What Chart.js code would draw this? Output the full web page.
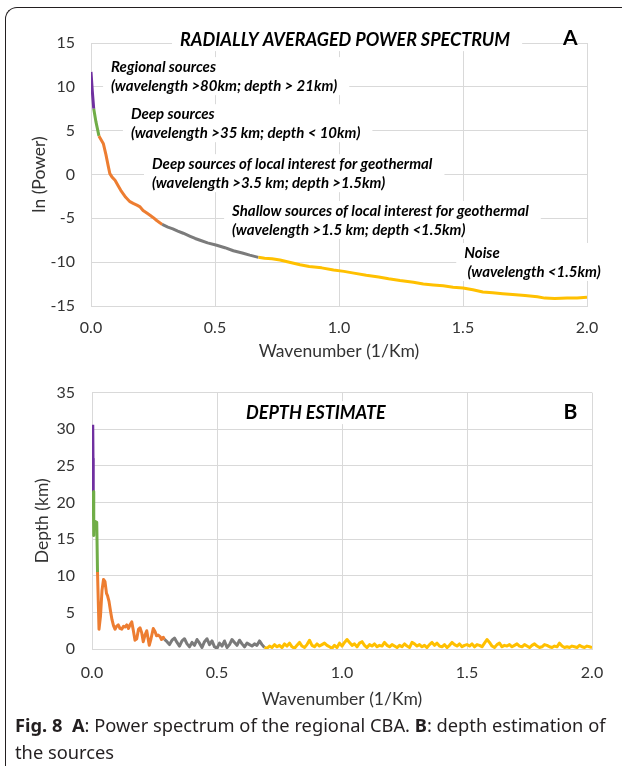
<!DOCTYPE html>
<html>
<head>
<meta charset="utf-8">
<script src="https://cdn.jsdelivr.net/npm/chart.js@4.4.1/dist/chart.umd.min.js"></script>
<style>
  html, body { margin: 0; padding: 0; background: #fff; }
  body { width: 622px; height: 774px; position: relative; overflow: hidden; }
  #frame {
    position: absolute; left: 5px; top: 7px; width: 640px; height: 758px;
    border-top: 1.5px solid #231f20; border-left: 1.5px solid #231f20;
    border-top-left-radius: 12px;
  }
  canvas { position: absolute; left: 0; }
  #chartA { top: 0; }
  #chartB { top: 366px; }
  #caption {
    position: absolute; left: 15px; top: 711px;
    font-family: "Noto Sans", sans-serif; font-size: 18.3px; line-height: 27px;
    color: #231f20; white-space: nowrap;
  }
</style>
</head>
<body>
<div id="frame"></div>
<canvas id="chartA" width="622" height="366"></canvas>
<canvas id="chartB" width="622" height="348"></canvas>
<div id="caption"><b>Fig. 8</b>&nbsp;&nbsp;<b>A</b>: Power spectrum of the regional CBA. <b>B</b>: depth estimation of<br>the sources</div>
<script>
// wavenumber (1/km) and ln(power) for the radially averaged spectrum
const spectrumK = [
  0.000, 0.005, 0.011, 0.020, 0.032, 0.040, 0.050, 0.060, 0.070, 0.076,
  0.085, 0.097, 0.110, 0.120, 0.130, 0.140, 0.157, 0.170, 0.185, 0.198,
  0.210, 0.225, 0.238, 0.250, 0.265, 0.280, 0.287, 0.310, 0.330, 0.350,
  0.372, 0.400, 0.420, 0.440, 0.470, 0.507, 0.540, 0.574, 0.610, 0.640,
  0.675, 0.700, 0.730, 0.762, 0.800, 0.843, 0.880, 0.930, 0.978, 1.020,
  1.060, 1.110, 1.160, 1.200, 1.246, 1.300, 1.340, 1.380, 1.420, 1.460,
  1.500, 1.540, 1.580, 1.620, 1.660, 1.700, 1.750, 1.800, 1.830, 1.870,
  1.920, 1.960, 2.000
];
const spectrumLnP = [
  11.7, 9.6, 7.5, 6.0, 4.4, 4.0, 3.5, 2.3, 0.9, 0.1,
  -0.3, -0.65, -1.3, -1.8, -2.2, -2.6, -3.1, -3.3, -3.5, -3.7,
  -4.1, -4.4, -4.65, -4.9, -5.25, -5.55, -5.7, -6.0, -6.2, -6.45,
  -6.7, -7.05, -7.3, -7.5, -7.8, -8.07, -8.35, -8.7, -8.95, -9.2,
  -9.45, -9.55, -9.6, -9.75, -10.0, -10.3, -10.5, -10.65, -10.9, -11.05,
  -11.25, -11.5, -11.7, -11.9, -12.1, -12.3, -12.5, -12.6, -12.7, -12.85,
  -12.95, -13.15, -13.4, -13.5, -13.6, -13.7, -13.8, -13.95, -14.1, -14.15,
  -14.1, -14.1, -14.0
];

// wavenumber (1/km) and estimated depth (km)
const depthK = [
  0.003, 0.004, 0.005, 0.007, 0.008, 0.019, 0.022, 0.028, 0.034, 0.040,
  0.046, 0.052, 0.058, 0.062, 0.068, 0.074, 0.080, 0.086, 0.092, 0.098,
  0.105, 0.112, 0.119, 0.126, 0.132, 0.139, 0.146, 0.152, 0.159, 0.165,
  0.172, 0.179, 0.186, 0.192, 0.199, 0.205, 0.212, 0.219, 0.225, 0.229,
  0.236, 0.245, 0.252, 0.258, 0.265, 0.272, 0.278, 0.285, 0.290,
  0.30, 0.31, 0.32, 0.33, 0.34, 0.35, 0.36, 0.37, 0.38, 0.39,
  0.40, 0.41, 0.42, 0.43, 0.44, 0.45, 0.46, 0.47, 0.48, 0.49,
  0.50, 0.51, 0.52, 0.53, 0.54, 0.55, 0.56, 0.57, 0.58, 0.59,
  0.60, 0.61, 0.62, 0.63, 0.64, 0.65, 0.66, 0.67, 0.68, 0.69,
  0.70, 0.71, 0.72, 0.73, 0.74, 0.75, 0.76, 0.77, 0.78, 0.79,
  0.80, 0.81, 0.82, 0.83, 0.84, 0.85, 0.86, 0.87, 0.88, 0.89,
  0.90, 0.91, 0.92, 0.93, 0.94, 0.95, 0.96, 0.97, 0.98, 0.99,
  1.00, 1.01, 1.02, 1.03, 1.04, 1.05, 1.06, 1.07, 1.08, 1.09,
  1.10, 1.11, 1.12, 1.13, 1.14, 1.15, 1.16, 1.17, 1.18, 1.19,
  1.20, 1.21, 1.22, 1.23, 1.24, 1.25, 1.26, 1.27, 1.28, 1.29,
  1.30, 1.31, 1.32, 1.33, 1.34, 1.35, 1.36, 1.37, 1.38, 1.39,
  1.40, 1.41, 1.42, 1.43, 1.44, 1.45, 1.46, 1.47, 1.48, 1.49,
  1.50, 1.51, 1.52, 1.53, 1.54, 1.55, 1.56, 1.57, 1.58, 1.59,
  1.60, 1.61, 1.62, 1.63, 1.64, 1.65, 1.66, 1.67, 1.68, 1.69,
  1.70, 1.71, 1.72, 1.73, 1.74, 1.75, 1.76, 1.77, 1.78, 1.79,
  1.80, 1.81, 1.82, 1.83, 1.84, 1.85, 1.86, 1.87, 1.88, 1.89,
  1.90, 1.91, 1.92, 1.93, 1.94, 1.95, 1.96, 1.97, 1.98, 1.99,
  2.00
];
const depthKm = [
  30.6, 26.0, 21.5, 15.5, 17.5, 17.3, 10.5, 2.7, 4.5, 8.0,
  9.5, 9.2, 7.6, 7.3, 6.5, 5.2, 4.0, 3.2, 2.7, 3.1,
  3.3, 2.8, 2.7, 3.1, 3.0, 3.3, 2.8, 3.3, 3.7, 2.6,
  1.2, 1.4, 2.7, 2.9, 2.2, 1.0, 1.9, 2.5, 1.3, 0.5,
  1.4, 2.8, 2.4, 1.8, 1.9, 1.7, 1.3, 1.6, 1.3,
  1.0, 0.6, 1.2, 1.5, 0.9, 0.4, 1.1, 1.4, 0.7, 0.3,
  0.9, 0.5, 1.3, 0.8, 0.2, 1.0, 1.4, 0.6, 1.1, 0.3,
  0.1, 0.8, 0.4, 1.1, 0.2, 0.6, 1.3, 0.9, 0.5, 1.2,
  0.7, 0.3, 0.8, 0.6, 0.4, 0.7, 0.5, 1.1, 0.6, 0.2,
  0.1, 0.4, 0.2, 0.6, 0.3, 0.5, 0.2, 0.7, 0.4, 0.8,
  0.3, 0.1, 0.5, 0.9, 0.4, 0.2, 0.6, 1.2, 0.5, 0.3,
  0.7, 0.4, 0.6, 0.8, 0.5, 0.3, 0.1, 0.5, 0.2, 0.8,
  0.4, 0.9, 1.3, 0.9, 0.5, 0.7, 0.3, 0.8, 1.0, 0.5,
  0.2, 0.6, 0.4, 0.7, 0.3, 0.5, 0.4, 0.9, 0.5, 0.3,
  0.6, 0.4, 0.2, 0.5, 0.3, 0.7, 0.4, 0.2, 0.9, 0.7,
  0.4, 0.6, 0.3, 0.5, 0.2, 0.6, 0.9, 0.5, 0.8, 0.4,
  0.3, 0.6, 0.2, 0.5, 0.9, 0.6, 0.4, 0.7, 0.3, 0.5,
  0.6, 0.4, 0.7, 0.3, 0.6, 0.5, 0.3, 0.8, 1.3, 0.9,
  0.4, 0.2, 0.6, 0.8, 0.3, 0.5, 0.4, 0.6, 0.3, 0.5,
  0.7, 0.4, 0.3, 0.6, 0.4, 0.2, 0.5, 0.7, 0.4, 0.2,
  0.3, 0.6, 0.5, 0.3, 0.2, 0.4, 0.3, 0.8, 0.4, 0.2,
  0.3, 0.2, 0.4, 0.3, 0.2, 0.5, 0.3, 0.2, 0.4, 0.3,
  0.2
];

// source bands: regional, deep, deep local, shallow local, noise
const bandColors = ["#7030a0", "#70ad47", "#ed7d31", "#7b7b7b", "#ffc000"];
const spectrumBandEnds = [0.011, 0.032, 0.287, 0.675];
const depthBandEnds = [0.005, 0.022, 0.29, 0.69];

const spectrumNotes = [
  { k: 0.081, v: 12.25, lines: ["Regional sources", "(wavelength >80km; depth > 21km)"] },
  { k: 0.161, v: 6.88, lines: ["Deep sources", "(wavelength >35 km; depth < 10km)"] },
  { k: 0.246, v: 1.18, lines: ["Deep sources of local interest for geothermal", "(wavelength >3.5 km; depth >1.5km)"] },
  { k: 0.569, v: -4.16, lines: ["Shallow sources of local interest for geothermal", "(wavelength >1.5 km; depth <1.5km)"] },
  { k: 1.505, v: -8.95, lines: ["Noise", " (wavelength <1.5km)"] },
];

Chart.defaults.font.family = "Lato";
Chart.defaults.color = "#333";

function bandColor(ends) {
  return (ctx) => {
    const x = ctx.p1.parsed.x;
    let i = 0;
    while (i < ends.length && x > ends[i] + 1e-9) i++;
    return bandColors[i];
  };
}

// white label boxes that hide the grid, then the text
function labelsPlugin(title, letter, notes) {
  return {
    id: "labels",
    beforeDatasetsDraw(chart) {
      const { ctx, scales } = chart;
      const px = (k) => scales.x.getPixelForValue(k);
      const py = (v) => scales.y.getPixelForValue(v);
      ctx.save();
      ctx.textBaseline = "middle";

      ctx.font = "italic bold 18px Lato";
      const tw = ctx.measureText(title.text).width;
      const tx = px(title.k), ty = py(title.v);
      ctx.fillStyle = "#fff";
      ctx.fillRect(tx - 8, ty - 12, tw + 20, 23);
      ctx.fillStyle = "#000";
      ctx.textAlign = "left";
      ctx.fillText(title.text, tx, ty);

      ctx.font = "bold 21px Lato";
      ctx.textAlign = "center";
      ctx.fillText(letter.text, px(letter.k), py(letter.v));

      ctx.font = "italic bold 15px Lato";
      ctx.textAlign = "left";
      notes.forEach((n) => {
        const x0 = px(n.k), y0 = py(n.v);
        const w = Math.max(...n.lines.map((l) => ctx.measureText(l).width));
        ctx.fillStyle = "#fff";
        ctx.fillRect(x0 - 8, y0 - 10, w + 20, 19 * (n.lines.length - 1) + 19);
        ctx.fillStyle = "#000";
        n.lines.forEach((l, i) => ctx.fillText(l, x0, y0 + 19 * i));
      });
      ctx.restore();
    },
  };
}

function makeChart(id, kx, vy, ends, yMin, yMax, yTitle, pad, yWidth, xHeight, xPad, yPad, plugin) {
  return new Chart(document.getElementById(id), {
    type: "scatter",
    data: {
      datasets: [{
        data: kx.map((k, i) => ({ x: k, y: vy[i] })),
        showLine: true,
        pointRadius: 0,
        borderWidth: 3,
        borderJoinStyle: "round",
        segment: { borderColor: bandColor(ends) },
      }],
    },
    options: {
      responsive: false,
      animation: false,
      devicePixelRatio: 1,
      layout: { padding: pad },
      plugins: { legend: { display: false }, tooltip: { enabled: false } },
      scales: {
        x: {
          type: "linear", min: 0, max: 2,
          ticks: { stepSize: 0.5, padding: xPad, font: { size: 16 }, callback: (v) => v.toFixed(1) },
          grid: { color: "#d9d9d9", drawTicks: false },
          border: { color: "#d9d9d9" },
          title: { display: true, text: "Wavenumber (1/Km)", font: { size: 17.5 }, padding: 4 },
          afterFit: (s) => { s.height = xHeight; },
        },
        y: {
          min: yMin, max: yMax,
          ticks: { stepSize: 5, padding: yPad, font: { size: 16 } },
          grid: { color: "#d9d9d9", drawTicks: false },
          border: { color: "#d9d9d9" },
          title: { display: true, text: yTitle, font: { size: 17.5 }, padding: 4 },
          afterFit: (s) => { s.width = yWidth; },
        },
      },
    },
    plugins: [plugin],
  });
}

makeChart("chartA", spectrumK, spectrumLnP, spectrumBandEnds, -15, 15, "ln (Power)",
  { left: 25, right: 35, top: 43, bottom: 0 }, 66, 60, 12, 16,
  labelsPlugin({ k: 0.359, v: 15.33, text: "RADIALLY AVERAGED POWER SPECTRUM" },
               { k: 1.933, v: 15.56, text: "A" }, spectrumNotes));

makeChart("chartB", depthK, depthKm, depthBandEnds, 0, 35, "Depth (km)",
  { left: 28, right: 30, top: 18, bottom: 0 }, 64, 65, 14, 17,
  labelsPlugin({ k: 0.616, v: 32.2, text: "DEPTH ESTIMATE" },
               { k: 1.914, v: 32.3, text: "B" }, []));
</script>
</body>
</html>
